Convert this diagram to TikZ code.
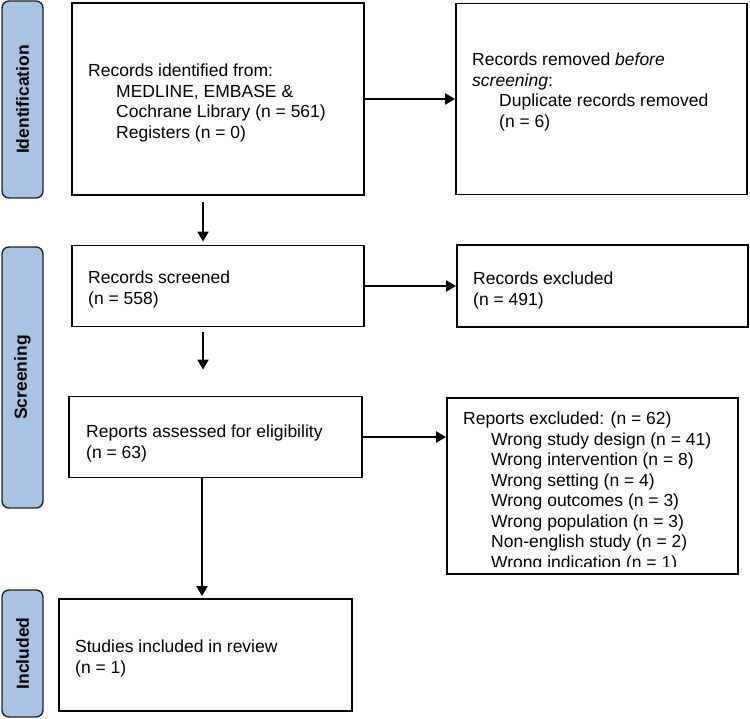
\documentclass[tikz,border=0pt]{standalone}
\usepackage{fontspec}
\setmainfont{Liberation Sans}
\usetikzlibrary{arrows.meta,calc}
\definecolor{barblue}{RGB}{168,196,226}
\definecolor{barline}{RGB}{35,35,35}
\begin{document}
\begin{tikzpicture}[x=1pt,y=-1pt,
  box/.style={draw=black,line width=1.8pt,inner sep=0pt,fill=white},
  bar/.style={draw=barline,fill=barblue,rounded corners=7pt,line width=1.4pt,inner sep=0pt,minimum width=41pt},
  barlabel/.style={rotate=90,font=\fontsize{17.5}{20.5}\selectfont\bfseries,inner sep=0pt},
  txt/.style={anchor=north west,inner sep=0pt,align=left,font=\fontsize{17.5}{20.5}\selectfont},
  arr/.style={line width=2.1pt,-{Triangle[length=10pt,width=11pt]}}]
\useasboundingbox (0,0) rectangle (750,719);
% phase bars
\node[bar,minimum height=197pt] (barid) at (22.5,99.5) {};
\node[barlabel] (labid) at (barid.center) {Identification};
\node[bar,minimum height=261pt] (barsc) at (22.5,377.5) {};
\node[barlabel] (labsc) at (barsc.center) {Screening};
\node[bar,minimum height=127pt] (barin) at (22.5,653.5) {};
\node[barlabel] (labin) at (barin.center) {Included};
% boxes
\node[box,minimum width=292pt,minimum height=192pt] (ident) at (218,99) {};
\node[box,minimum width=291pt,minimum height=191pt] (rem) at (601.5,99) {};
\node[box,minimum width=292pt,minimum height=81pt] (screen) at (218,286) {};
\node[box,minimum width=291pt,minimum height=82pt] (excl) at (602.5,286) {};
\node[box,minimum width=293pt,minimum height=81pt] (assess) at (215.5,437) {};
\node[box,minimum width=291pt,minimum height=176pt] (repex) at (592.5,486) {};
\node[box,minimum width=293pt,minimum height=112pt] (incl) at (205.5,655) {};
% texts
\node[txt] (t1) at (88,62) {\strut Records identified from:\\\hspace*{28pt}MEDLINE, EMBASE \&\\\hspace*{28pt}Cochrane Library (n = 561)\\\hspace*{28pt}Registers (n = 0)};
\node[txt] (t2) at (472,51) {\strut Records removed \textit{before}\\\textit{screening}:\\\hspace*{27pt}Duplicate records removed\\\hspace*{27pt}(n = 6)};
\node[txt] (t3) at (88,269) {\strut Records screened\\(n = 558)};
\node[txt] (t4) at (473,270) {\strut Records excluded\\(n = 491)};
\node[txt] (t5) at (86,423) {\strut Reports assessed for eligibility\\(n = 63)};
\begin{scope}
\clip (447,398) rectangle (738,566);
\node[txt] (t6) at (463,410) {\strut Reports excluded: (n = 62)\\\hspace*{28pt}Wrong study design (n = 41)\\\hspace*{28pt}Wrong intervention (n = 8)\\\hspace*{28pt}Wrong setting (n = 4)\\\hspace*{28pt}Wrong outcomes (n = 3)\\\hspace*{28pt}Wrong population (n = 3)\\\hspace*{28pt}Non-english study (n = 2)\\\hspace*{28pt}Wrong indication (n = 1)};
\end{scope}
\node[txt] (t7) at (75,638) {\strut Studies included in review\\(n = 1)};
% arrows
\draw[arr] ($(ident.south)+(-15,6)$) -- ($(screen.north)+(-15,-3)$);
\draw[arr] ($(screen.south)+(-15,5)$) -- ($(assess.north)+(-12.5,-26)$);
\draw[arr] ($(assess.south)+(-13.5,0)$) -- ($(incl.north)+(-3.5,-2)$);
\draw[arr] (ident.east) -- (ident.east -| rem.west);
\draw[arr] (screen.east) -- (screen.east -| excl.west);
\draw[arr] (assess.east) -- (assess.east -| repex.west);
\end{tikzpicture}
\end{document}
